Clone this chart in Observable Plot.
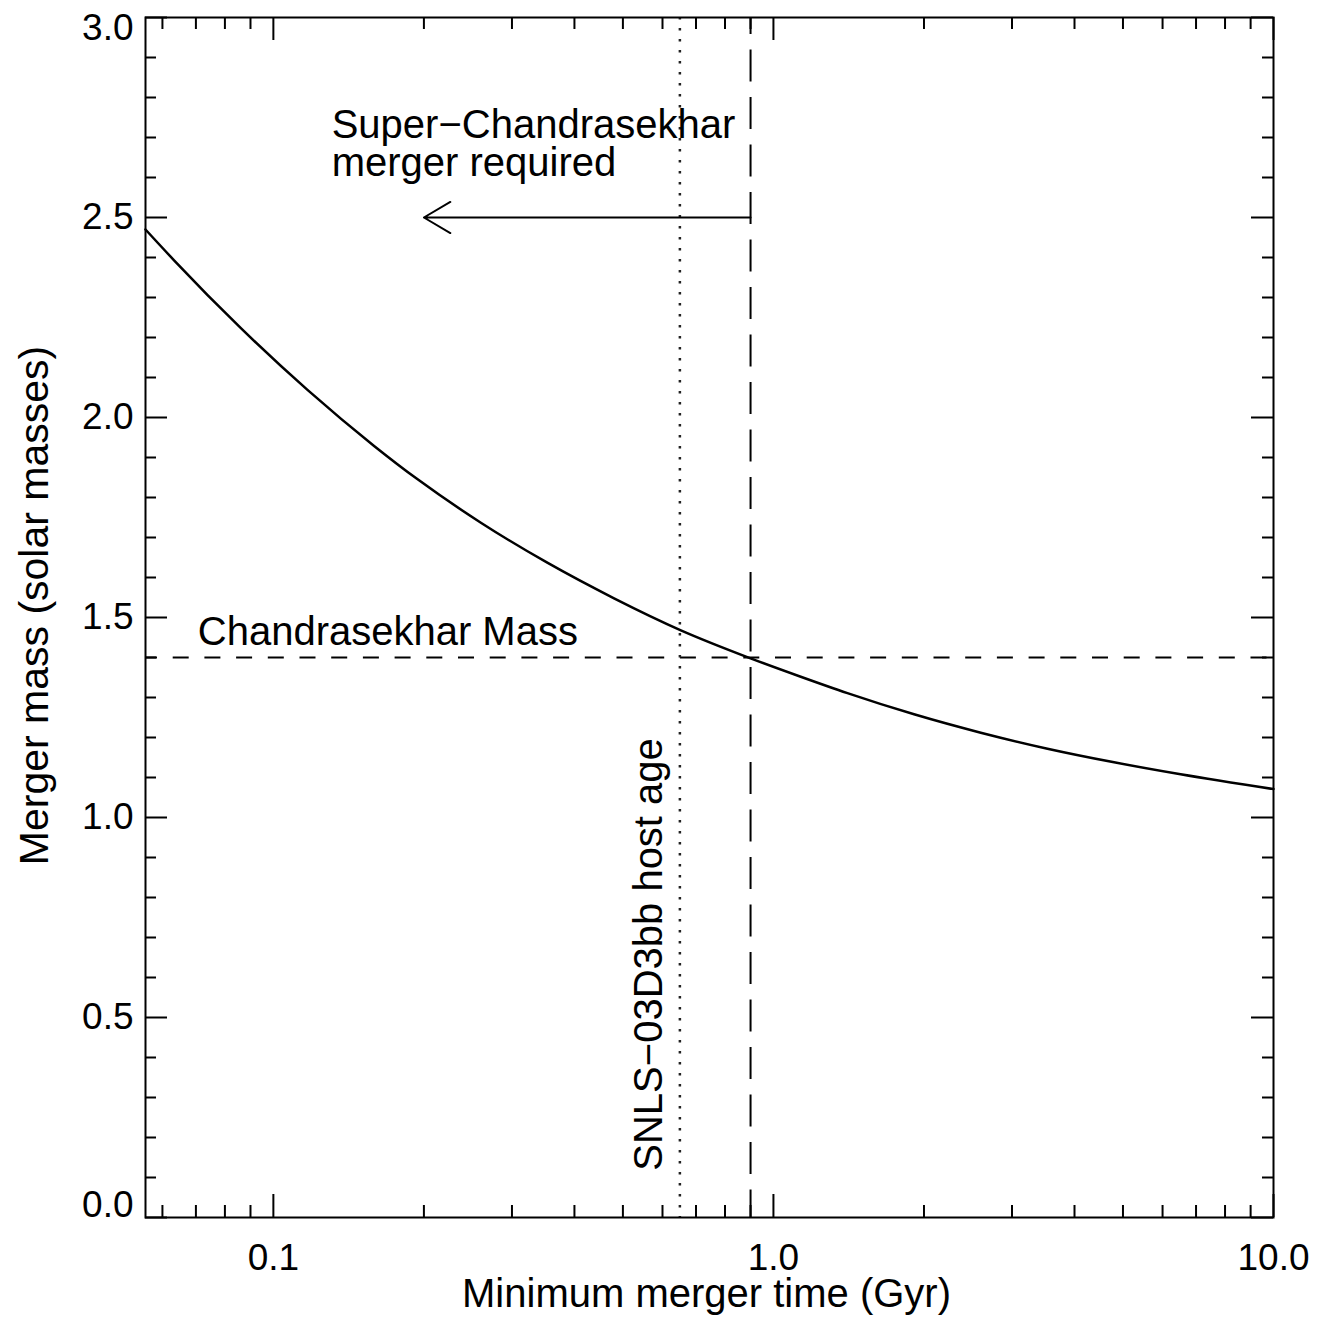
<!DOCTYPE html>
<html>
<head>
<meta charset="utf-8">
<script src="https://cdn.jsdelivr.net/npm/d3@7"></script>
<script src="https://cdn.jsdelivr.net/npm/@observablehq/plot@0.6"></script>
<style>
  html, body { margin: 0; padding: 0; background: #fff; }
  #chart svg { display: block; }
</style>
</head>
<body>
<div id="chart"></div>
<script>
// ---------------- data ----------------
const mergerTimes  = [0.0555, 0.0633, 0.086, 0.117, 0.159, 0.194, 0.26, 0.353, 0.48, 0.653, 0.90, 1.134, 1.406, 1.911, 2.598, 3.532, 4.8, 6.52, 10];
const mergerMasses = [2.47, 2.393, 2.224, 2.069, 1.929, 1.846, 1.737, 1.637, 1.548, 1.468, 1.398, 1.352, 1.311, 1.258, 1.212, 1.172, 1.138, 1.108, 1.071];

const chandrasekharMass = [1.4];
const hostAge = [0.65];          // dotted line (Gyr)
const minMergerTime = [0.9];     // long-dashed line (Gyr)
const arrowFrom = [0.9];
const arrowTo = [0.2];
const arrowMass = [2.5];

const noteTexts   = ["Super\u2212Chandrasekhar\nmerger required", "Chandrasekhar Mass"];
const noteTimes   = [0.1308, 0.0706];
const noteMasses  = [2.604, 1.432];

const hostLabel = ["SNLS\u221203D3bb host age"];
const hostLabelTime = [0.60];
const hostLabelMass = [0.117];

const xTitle = ["Minimum merger time (Gyr)"];
const yTitle = ["Merger mass (solar masses)"];

const xLabelTicks = [0.1, 1, 10];
const xMajorTicks = [0.1, 1, 10];
const xMinorTicks = [0.06, 0.07, 0.08, 0.09, 0.2, 0.3, 0.4, 0.5, 0.6, 0.7, 0.8, 0.9, 2, 3, 4, 5, 6, 7, 8, 9];
const yMajorTicks = [0, 0.5, 1.0, 1.5, 2.0, 2.5, 3.0];
const yMinorTicks = [0.1, 0.2, 0.3, 0.4, 0.6, 0.7, 0.8, 0.9, 1.1, 1.2, 1.3, 1.4, 1.6, 1.7, 1.8, 1.9, 2.1, 2.2, 2.3, 2.4, 2.6, 2.7, 2.8, 2.9];
const yLabelMid = [0.5, 1.0, 1.5, 2.0, 2.5];
const yLabelTop = [3.0];
const yLabelBottom = [0.0];

// ---------------- build tables ----------------
const curve = mergerTimes.map((t, i) => ({t, m: mergerMasses[i]}));
const notes = noteTexts.map((text, i) => ({text, t: noteTimes[i], m: noteMasses[i]}));
const hostNote = hostLabel.map((text, i) => ({text, t: hostLabelTime[i], m: hostLabelMass[i]}));
const arrows = arrowFrom.map((x1, i) => ({x1, x2: arrowTo[i], y: arrowMass[i]}));

// ---------------- layout ----------------
const W = 1317, H = 1322;
const mL = 145, mR = 44, mT = 17, mB = 105;
const innerW = W - mL - mR, innerH = H - mT - mB;
const FONT = "'Liberation Sans', Arial, Helvetica, sans-serif";
const majorLen = 23, minorLen = 12;
const fmt = d => d.toFixed(1);

const chart = Plot.plot({
  width: W,
  height: H,
  marginLeft: mL,
  marginRight: mR,
  marginTop: mT,
  marginBottom: mB,
  style: {fontFamily: FONT, fontSize: "37px", background: "white", color: "black", overflow: "visible"},
  x: {type: "log", domain: [0.0555, 10]},
  y: {domain: [0, 3]},
  marks: [
    // reference lines
    Plot.ruleY(chandrasekharMass, {y: d => d, stroke: "black", strokeWidth: 2, strokeDasharray: "16,15.7", strokeDashoffset: 4}),
    Plot.ruleX(minMergerTime, {x: d => d, stroke: "black", strokeWidth: 2, strokeDasharray: "32,15.5", strokeDashoffset: 15}),
    Plot.ruleX(hostAge, {x: d => d, stroke: "#222", strokeWidth: 2.5, strokeDasharray: "2.5,8.5"}),
    // curve
    Plot.line(curve, {x: "t", y: "m", stroke: "black", strokeWidth: 2.5, curve: "monotone-x"}),
    // arrow
    Plot.arrow(arrows, {x1: "x1", x2: "x2", y1: "y", y2: "y", stroke: "black", strokeWidth: 2, headLength: 23, headAngle: 61}),
    // annotations
    Plot.text(notes, {x: "t", y: "m", text: "text", textAnchor: "start", lineAnchor: "bottom", lineHeight: 0.95, fontSize: 40, fill: "black"}),
    Plot.text(hostNote, {x: "t", y: "m", text: "text", rotate: -90, textAnchor: "start", lineAnchor: "bottom", fontSize: 40, fill: "black"}),
    // ticks: bottom / top
    Plot.tickX(xMajorTicks, {x: d => d, insetTop: innerH - majorLen, stroke: "black", strokeWidth: 2}),
    Plot.tickX(xMinorTicks, {x: d => d, insetTop: innerH - minorLen, stroke: "black", strokeWidth: 2}),
    Plot.tickX(xMajorTicks, {x: d => d, insetBottom: innerH - majorLen, stroke: "black", strokeWidth: 2}),
    Plot.tickX(xMinorTicks, {x: d => d, insetBottom: innerH - minorLen, stroke: "black", strokeWidth: 2}),
    // ticks: left / right
    Plot.tickY(yMajorTicks, {y: d => d, insetRight: innerW - 22, stroke: "black", strokeWidth: 2}),
    Plot.tickY(yMinorTicks, {y: d => d, insetRight: innerW - 11, stroke: "black", strokeWidth: 2}),
    Plot.tickY(yMajorTicks, {y: d => d, insetLeft: innerW - 22, stroke: "black", strokeWidth: 2}),
    Plot.tickY(yMinorTicks, {y: d => d, insetLeft: innerW - 11, stroke: "black", strokeWidth: 2}),
    // frame
    Plot.frame({stroke: "black", strokeWidth: 2}),
    // tick labels
    Plot.axisX({ticks: xLabelTicks, anchor: "bottom", tickSize: 0, tickPadding: 26, tickFormat: fmt, label: null, fontSize: 37}),
    Plot.axisY({ticks: yLabelMid, anchor: "left", tickSize: 0, tickPadding: 12, tickFormat: fmt, label: null, fontSize: 37}),
    Plot.axisY({ticks: yLabelTop, anchor: "left", tickSize: 0, tickPadding: 12, tickFormat: fmt, label: null, fontSize: 37, dy: 11}),
    Plot.axisY({ticks: yLabelBottom, anchor: "left", tickSize: 0, tickPadding: 12, tickFormat: fmt, label: null, fontSize: 37, dy: -12}),
    // axis titles
    Plot.text(xTitle, {text: d => d, frameAnchor: "bottom", dx: -3, dy: 89, lineAnchor: "bottom", textAnchor: "middle", fontSize: 40, fill: "black"}),
    Plot.text(yTitle, {text: d => d, frameAnchor: "left", dx: -98, dy: -12, rotate: -90, lineAnchor: "bottom", textAnchor: "middle", fontSize: 41, fill: "black"})
  ]
});
document.getElementById("chart").appendChild(chart);
</script>
</body>
</html>
